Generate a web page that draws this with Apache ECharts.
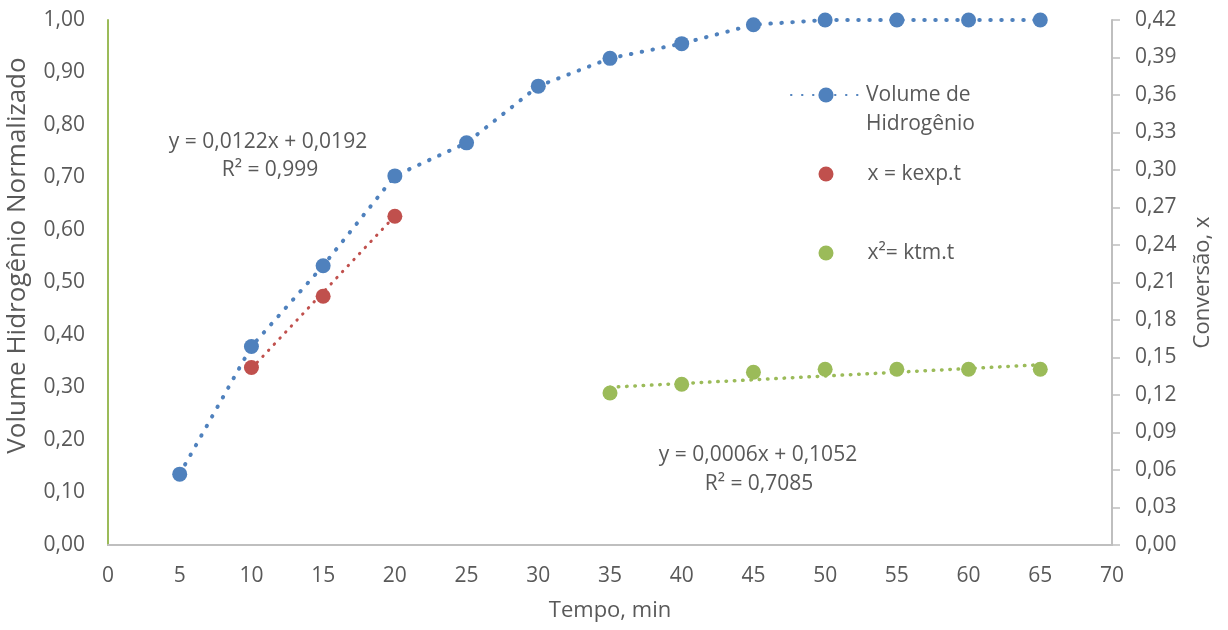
<!DOCTYPE html>
<html>
<head>
<meta charset="utf-8">
<script src="https://cdn.jsdelivr.net/npm/echarts@6/dist/echarts.min.js"></script>
<style>
html,body{margin:0;padding:0;background:#fff;}
#chart{width:1228px;height:630px;}
</style>
</head>
<body>
<div id="chart"></div>
<script>
// ---- data ----
var tempo = [5, 10, 15, 20, 25, 30, 35, 40, 45, 50, 55, 60, 65];
var volumeH2 = [0.135, 0.378, 0.532, 0.703, 0.766, 0.874, 0.927, 0.955, 0.991, 1.0, 1.0, 1.0, 1.0];

var kexpT = [10, 15, 20];
var kexpX = [0.142, 0.199, 0.263];
var kexpTrendT = [10, 20];
var kexpTrendX = [0.1412, 0.2632];

var ktmT = [35, 40, 45, 50, 55, 60, 65];
var ktmX = [0.1216, 0.1286, 0.1382, 0.1406, 0.1406, 0.1406, 0.1406];
var ktmTrendT = [35, 65];
var ktmTrendX = [0.1262, 0.1442];

var seriesNames = ['Volume de Hidrogênio', 'x = kexp.t', 'x²= ktm.t'];
var eqKexp = ['y = 0,0122x + 0,0192', 'R² = 0,999'];
var eqKtm = ['y = 0,0006x + 0,1052', 'R² = 0,7085'];
var axisTitles = { x: 'Tempo, min', yLeft: 'Volume Hidrogênio Normalizado', yRight: 'Conversão, x' };

function pairs(xs, ys) { return xs.map(function (x, i) { return [x, ys[i]]; }); }
function fmt2(v) { return v.toFixed(2).replace('.', ','); }

var FONT = 'Open Sans';
var TXT = '#595959';
var BLUE = '#4F81BD', RED = '#C0504D', GREEN = '#9BBB59';

var chart = echarts.init(document.getElementById('chart'), null, { renderer: 'canvas' });

var legendText = { color: TXT, fontFamily: FONT, fontSize: 21, lineHeight: 29 };
var legendTextRich = {
  color: TXT, fontFamily: FONT, fontSize: 21, lineHeight: 29,
  rich: {
    p: { width: 29, fontSize: 21, lineHeight: 29 },
    t: { color: TXT, fontFamily: FONT, fontSize: 21, lineHeight: 29 }
  }
};
function padName(name) { return '{p|}{t|' + name + '}'; }

chart.setOption({
  animation: false,
  backgroundColor: '#fff',
  textStyle: { fontFamily: FONT },
  grid: { left: 108, right: 116, top: 20, bottom: 85, containLabel: false, outerBoundsMode: 'none' },
  xAxis: {
    type: 'value', min: 0, max: 70, interval: 5,
    name: axisTitles.x, nameLocation: 'middle', nameGap: 55,
    nameTextStyle: { color: TXT, fontSize: 22, fontFamily: FONT },
    axisLine: { lineStyle: { color: '#BFBFBF', width: 2 } },
    axisTick: { show: false },
    splitLine: { show: false },
    axisLabel: { color: TXT, fontSize: 21, fontFamily: FONT, margin: 21 }
  },
  yAxis: [{
    type: 'value', min: 0, max: 1, interval: 0.1, position: 'left',
    name: axisTitles.yLeft, nameLocation: 'middle', nameGap: 77,
    nameTextStyle: { color: TXT, fontSize: 26, fontFamily: FONT, padding: [0, 0, 0, 54] },
    axisLine: { show: true, lineStyle: { color: GREEN, width: 2 } },
    axisTick: { show: false },
    splitLine: { show: false },
    axisLabel: { color: TXT, fontSize: 21, fontFamily: FONT, margin: 23, formatter: fmt2 }
  }, {
    type: 'value', min: 0, max: 0.42, interval: 0.03, position: 'right',
    name: axisTitles.yRight, nameLocation: 'middle', nameGap: 80,
    nameTextStyle: { color: TXT, fontSize: 22, fontFamily: FONT },
    axisLine: { show: true, lineStyle: { color: '#BFBFBF', width: 2 } },
    axisTick: { show: true, inside: false, length: 8, lineStyle: { color: '#BFBFBF', width: 1.5 } },
    splitLine: { show: false },
    axisLabel: { color: TXT, fontSize: 21, fontFamily: FONT, margin: 23, formatter: fmt2 }
  }],
  legend: [
    { orient: 'vertical', left: 790, top: 51.5, padding: 0, itemWidth: 70, itemHeight: 19,
      selectedMode: false, textStyle: legendText, data: [seriesNames[0]],
      formatter: function () { return '\nVolume de\nHidrogênio'; } },
    { orient: 'vertical', left: 818.5, top: 159.5, padding: 0, itemWidth: 15, itemHeight: 15,
      selectedMode: false, textStyle: legendTextRich, data: [seriesNames[1]], formatter: padName },
    { orient: 'vertical', left: 818.5, top: 238.5, padding: 0, itemWidth: 15, itemHeight: 15,
      selectedMode: false, textStyle: legendTextRich, data: [seriesNames[2]], formatter: padName }
  ],
  series: [{
    name: seriesNames[0], type: 'line', yAxisIndex: 0,
    data: pairs(tempo, volumeH2),
    symbol: 'circle', symbolSize: 15,
    itemStyle: { color: BLUE },
    lineStyle: { color: BLUE, width: 4, type: [0.5, 10.5], cap: 'round' },
    z: 3
  }, {
    name: seriesNames[1], type: 'scatter', yAxisIndex: 1,
    data: pairs(kexpT, kexpX),
    symbol: 'circle', symbolSize: 15,
    itemStyle: { color: RED, opacity: 1 },
    z: 4
  }, {
    name: 'trend kexp', type: 'line', yAxisIndex: 1, silent: true,
    data: pairs(kexpTrendT, kexpTrendX), symbol: 'none',
    lineStyle: { color: RED, width: 3, type: [0.5, 7.8], cap: 'round' },
    z: 2
  }, {
    name: seriesNames[2], type: 'scatter', yAxisIndex: 1,
    data: pairs(ktmT, ktmX),
    symbol: 'circle', symbolSize: 15,
    itemStyle: { color: GREEN, opacity: 1 },
    z: 4
  }, {
    name: 'trend ktm', type: 'line', yAxisIndex: 1, silent: true,
    data: pairs(ktmTrendT, ktmTrendX), symbol: 'none',
    lineStyle: { color: GREEN, width: 3.5, type: [0.5, 7.8], cap: 'round' },
    z: 2
  }],
  graphic: [
    { type: 'text', x: 268, y: 142, style: { text: eqKexp[0], align: 'center', verticalAlign: 'middle', fill: TXT, font: '21px "Open Sans"' } },
    { type: 'text', x: 270, y: 170, style: { text: eqKexp[1], align: 'center', verticalAlign: 'middle', fill: TXT, font: '21px "Open Sans"' } },
    { type: 'text', x: 758, y: 455, style: { text: eqKtm[0], align: 'center', verticalAlign: 'middle', fill: TXT, font: '21px "Open Sans"' } },
    { type: 'text', x: 759, y: 484, style: { text: eqKtm[1], align: 'center', verticalAlign: 'middle', fill: TXT, font: '21px "Open Sans"' } }
  ]
});
</script>
</body>
</html>
